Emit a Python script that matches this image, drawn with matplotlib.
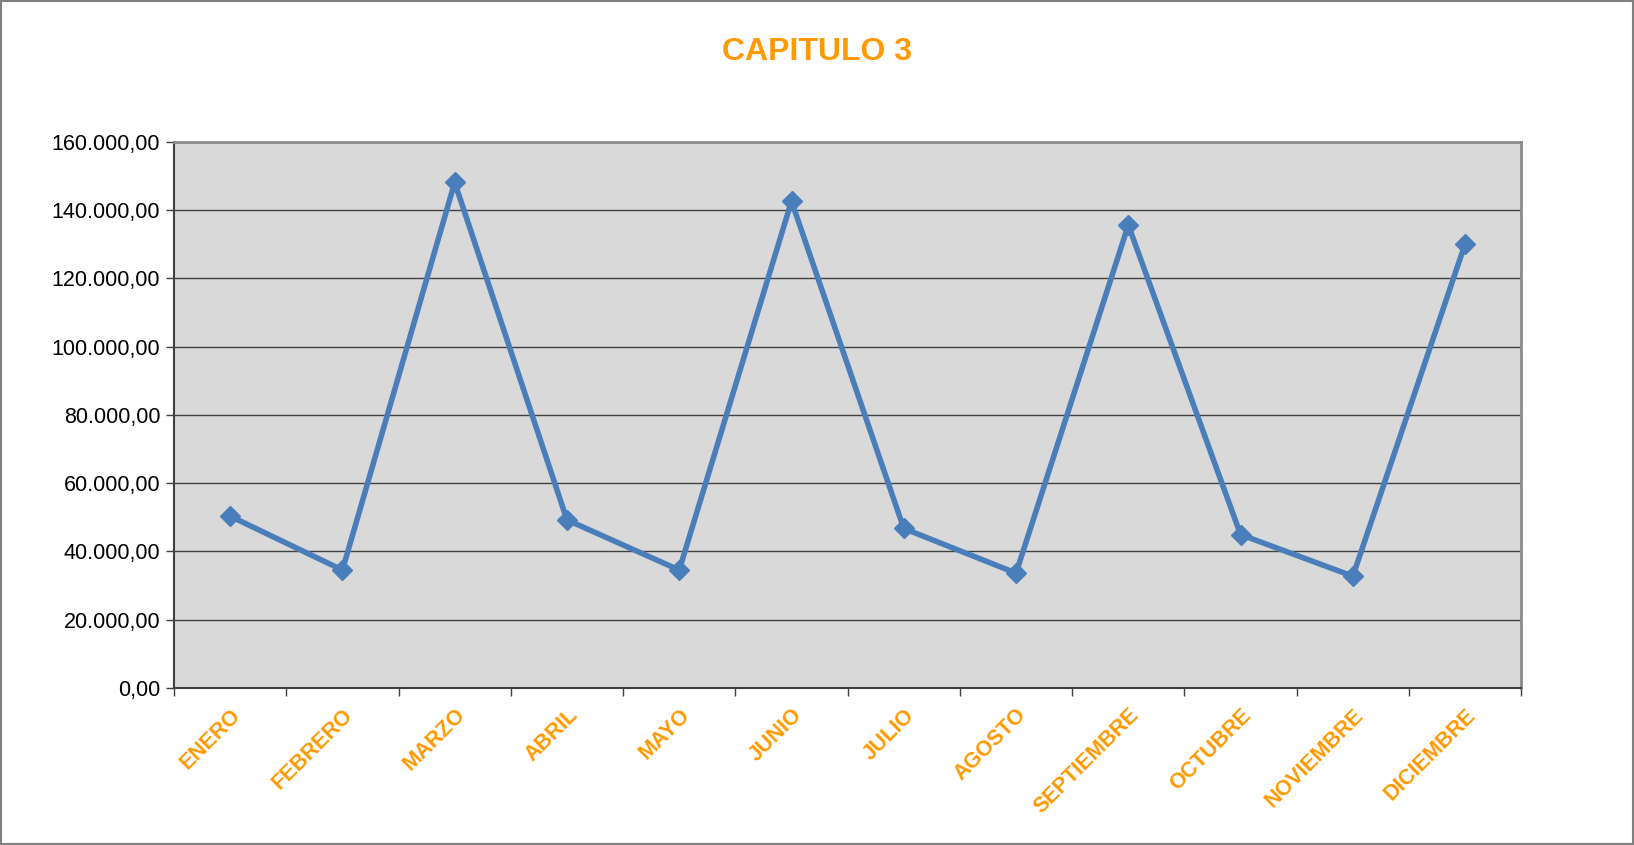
import matplotlib.pyplot as plt
import numpy as np
from matplotlib.ticker import FuncFormatter, MultipleLocator
from matplotlib.patches import Rectangle

plt.rcParams['font.family'] = ['Liberation Sans', 'DejaVu Sans']

# Data
meses = ['ENERO', 'FEBRERO', 'MARZO', 'ABRIL', 'MAYO', 'JUNIO',
         'JULIO', 'AGOSTO', 'SEPTIEMBRE', 'OCTUBRE', 'NOVIEMBRE', 'DICIEMBRE']
valores = [50300, 34500, 148100, 49200, 34500, 142600,
           46700, 33600, 135600, 44900, 32700, 130100]

naranja = '#FF9900'
azul = '#4A7EBB'

fig = plt.figure(figsize=(16.34, 8.452), dpi=100)
ax = fig.add_axes([0.1065, 0.186, 0.8245, 0.646])

x = np.arange(len(meses))
ax.plot(x, valores, color=azul, linewidth=4, marker='D', markersize=10.5,
        markerfacecolor=azul, markeredgecolor=azul, zorder=3)

ax.set_facecolor('#D9D9D9')
ax.set_xlim(-0.5, len(meses) - 0.5)
ax.set_ylim(0, 160000)
ax.yaxis.set_major_locator(MultipleLocator(20000))

def fmt(v, pos):
    s = f'{v:,.2f}'
    return s.replace(',', 'X').replace('.', ',').replace('X', '.')

ax.yaxis.set_major_formatter(FuncFormatter(fmt))
ax.grid(axis='y', color='#404040', linewidth=1.0)
ax.set_axisbelow(True)

# category labels at centres, tick marks between categories
ax.set_xticks(x)
ax.set_xticklabels(meses, rotation=45, ha='right', va='top', rotation_mode='anchor',
                   color=naranja, fontweight='bold', fontsize=15.5)
ax.tick_params(axis='x', which='major', length=0, pad=12)
ax.set_xticks(np.arange(-0.5, len(meses)), minor=True)
ax.tick_params(axis='x', which='minor', length=6, width=1, color='#404040')
ax.tick_params(axis='y', length=6, width=1, color='#404040', labelsize=15.5, pad=4)

for side in ['top', 'right']:
    ax.spines[side].set_color('#8C8C8C')
    ax.spines[side].set_linewidth(2)
for side in ['left', 'bottom']:
    ax.spines[side].set_color('#404040')
    ax.spines[side].set_linewidth(1.5)

fig.text(0.5, 0.938, 'CAPITULO 3', ha='center', va='center',
         color=naranja, fontsize=23, fontweight='bold')

fig.patches.append(Rectangle((0.0005, 0.001), 0.999, 0.998, transform=fig.transFigure,
                             fill=False, edgecolor='#808080', linewidth=1.5))

plt.savefig('out.png', dpi=100)
